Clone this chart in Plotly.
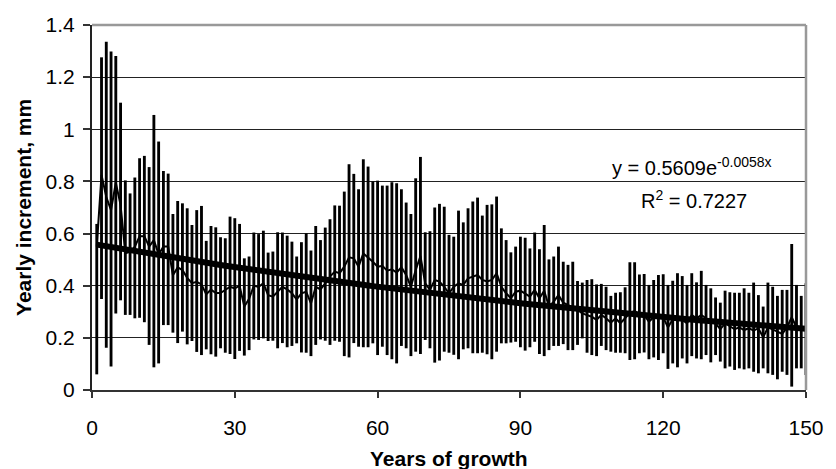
import math
import plotly.graph_objects as go

years = list(range(1, 151))

max_vals = [
    0.637, 1.276, 1.336, 1.298, 1.281, 1.102, 0.804, 0.754, 0.815, 0.889,
    0.898, 0.855, 1.055, 0.953, 0.840, 0.830, 0.675, 0.725, 0.716, 0.697,
    0.633, 0.690, 0.706, 0.572, 0.629, 0.624, 0.586, 0.582, 0.665, 0.659,
    0.637, 0.505, 0.512, 0.604, 0.598, 0.611, 0.527, 0.531, 0.605, 0.604,
    0.592, 0.569, 0.512, 0.567, 0.601, 0.535, 0.629, 0.575, 0.623, 0.655,
    0.708, 0.707, 0.761, 0.866, 0.829, 0.770, 0.885, 0.857, 0.800, 0.803,
    0.784, 0.784, 0.797, 0.793, 0.770, 0.719, 0.675, 0.812, 0.894, 0.605,
    0.609, 0.700, 0.714, 0.703, 0.595, 0.588, 0.688, 0.643, 0.697, 0.723,
    0.738, 0.669, 0.710, 0.712, 0.742, 0.620, 0.575, 0.528, 0.550, 0.588,
    0.584, 0.543, 0.604, 0.540, 0.633, 0.501, 0.512, 0.550, 0.492, 0.480,
    0.492, 0.418, 0.412, 0.422, 0.425, 0.405, 0.407, 0.396, 0.361, 0.373,
    0.375, 0.394, 0.490, 0.490, 0.443, 0.445, 0.403, 0.422, 0.441, 0.444,
    0.403, 0.419, 0.448, 0.437, 0.403, 0.448, 0.413, 0.457, 0.403, 0.390,
    0.355, 0.335, 0.381, 0.375, 0.373, 0.373, 0.390, 0.373, 0.412, 0.364,
    0.320, 0.412, 0.396, 0.361, 0.384, 0.384, 0.560, 0.403, 0.361, 0.409,
]

min_vals = [
    0.060, 0.349, 0.162, 0.090, 0.293, 0.344, 0.288, 0.288, 0.275, 0.277,
    0.260, 0.173, 0.087, 0.102, 0.249, 0.249, 0.220, 0.180, 0.224, 0.175,
    0.188, 0.146, 0.134, 0.156, 0.137, 0.128, 0.160, 0.143, 0.138, 0.119,
    0.150, 0.132, 0.153, 0.194, 0.192, 0.198, 0.188, 0.189, 0.160, 0.180,
    0.164, 0.169, 0.179, 0.144, 0.143, 0.130, 0.173, 0.194, 0.189, 0.173,
    0.189, 0.185, 0.130, 0.125, 0.180, 0.166, 0.164, 0.164, 0.179, 0.134,
    0.166, 0.134, 0.118, 0.102, 0.169, 0.160, 0.130, 0.147, 0.138, 0.192,
    0.160, 0.105, 0.113, 0.147, 0.143, 0.135, 0.118, 0.156, 0.160, 0.141,
    0.141, 0.143, 0.137, 0.118, 0.147, 0.179, 0.179, 0.182, 0.185, 0.164,
    0.151, 0.164, 0.185, 0.138, 0.130, 0.153, 0.169, 0.169, 0.176, 0.153,
    0.153, 0.173, 0.198, 0.143, 0.134, 0.130, 0.169, 0.153, 0.147, 0.143,
    0.143, 0.141, 0.115, 0.118, 0.141, 0.144, 0.118, 0.125, 0.115, 0.141,
    0.081, 0.102, 0.087, 0.121, 0.102, 0.130, 0.121, 0.118, 0.134, 0.106,
    0.134, 0.109, 0.083, 0.090, 0.077, 0.083, 0.079, 0.083, 0.070, 0.064,
    0.083, 0.064, 0.058, 0.041, 0.070, 0.058, 0.013, 0.083, 0.083, 0.058,
]

mean_vals = [
    0.550, 0.825, 0.740, 0.690, 0.795, 0.710, 0.525, 0.530, 0.550, 0.590,
    0.590, 0.550, 0.575, 0.520, 0.550, 0.550, 0.440, 0.470, 0.460, 0.430,
    0.410, 0.415, 0.405, 0.367, 0.385, 0.372, 0.372, 0.385, 0.396, 0.390,
    0.400, 0.320, 0.350, 0.400, 0.395, 0.410, 0.364, 0.358, 0.377, 0.396,
    0.386, 0.371, 0.348, 0.371, 0.377, 0.332, 0.396, 0.386, 0.409, 0.435,
    0.454, 0.448, 0.473, 0.509, 0.505, 0.473, 0.524, 0.509, 0.492, 0.473,
    0.476, 0.458, 0.463, 0.450, 0.471, 0.441, 0.396, 0.460, 0.514, 0.409,
    0.384, 0.422, 0.416, 0.396, 0.371, 0.396, 0.409, 0.403, 0.428, 0.435,
    0.441, 0.422, 0.416, 0.422, 0.448, 0.396, 0.371, 0.352, 0.377, 0.381,
    0.371, 0.358, 0.384, 0.352, 0.381, 0.320, 0.339, 0.364, 0.335, 0.326,
    0.317, 0.307, 0.294, 0.288, 0.281, 0.269, 0.288, 0.275, 0.258, 0.275,
    0.256, 0.275, 0.297, 0.303, 0.292, 0.288, 0.262, 0.279, 0.284, 0.279,
    0.240, 0.271, 0.269, 0.269, 0.256, 0.288, 0.275, 0.288, 0.275, 0.258,
    0.256, 0.233, 0.256, 0.243, 0.233, 0.240, 0.230, 0.237, 0.228, 0.237,
    0.202, 0.240, 0.233, 0.224, 0.215, 0.240, 0.279, 0.240, 0.233, 0.240,
]

# Exponential trend line printed on the chart: y = a * exp(b * x)
trend_a = 0.5609
trend_b = -0.0058
r_squared = 0.7227

x_ticks = [0, 30, 60, 90, 120, 150]
y_ticks = [0, 0.2, 0.4, 0.6, 0.8, 1.0, 1.2, 1.4]
y_tick_labels = ["0", "0.2", "0.4", "0.6", "0.8", "1", "1.2", "1.4"]

trend_vals = [trend_a * math.exp(trend_b * x) for x in years]

FONT = "Liberation Sans, Arial, sans-serif"

fig = go.Figure()
fig.add_trace(go.Bar(
    x=years,
    y=[hi - lo for hi, lo in zip(max_vals, min_vals)],
    base=min_vals,
    width=0.6,
    marker=dict(color="black", line=dict(width=0)),
    hoverinfo="skip",
))
fig.add_trace(go.Scatter(
    x=years, y=mean_vals, mode="lines",
    line=dict(color="black", width=2),
))
fig.add_trace(go.Scatter(
    x=years, y=trend_vals, mode="lines",
    line=dict(color="black", width=6),
))

fig.update_layout(
    width=836, height=469,
    margin=dict(l=92, r=19, t=25, b=79),
    paper_bgcolor="white", plot_bgcolor="white",
    showlegend=False,
    font=dict(family=FONT, size=21, color="black"),
    xaxis=dict(
        range=[0, 150], tickvals=x_ticks, ticks="outside", ticklen=6,
        tickwidth=1.5, tickcolor="#333", showgrid=False, zeroline=False,
        showline=True, linecolor="#333", linewidth=2,
        ticklabelstandoff=12,
        tickfont=dict(family=FONT, size=21),
    ),
    yaxis=dict(
        range=[0, 1.4], tickvals=y_ticks, ticktext=y_tick_labels,
        ticks="outside", ticklen=7,
        tickwidth=1.5, tickcolor="#333", showgrid=True, gridcolor="#222", gridwidth=1,
        zeroline=False, showline=True, linecolor="#222", linewidth=2,
        ticklabelstandoff=4,
        tickfont=dict(family=FONT, size=21),
    ),
    shapes=[
        dict(type="line", xref="paper", yref="paper", x0=0, x1=1, y0=1, y1=1,
             line=dict(color="#999", width=2.5)),
        dict(type="line", xref="paper", yref="paper", x0=1, x1=1, y0=0, y1=1,
             line=dict(color="#999", width=2.5)),
    ],
    annotations=[
        dict(text="<b>Years of growth</b>", xref="paper", yref="paper",
             x=0.5, y=-0.189, xanchor="center", yanchor="middle",
             showarrow=False, font=dict(family=FONT, size=21)),
        dict(text="<b>Yearly increment, mm</b>", xref="paper", yref="paper",
             x=-0.096, y=0.5, xanchor="center", yanchor="middle", textangle=-90,
             showarrow=False, font=dict(family=FONT, size=21)),
        dict(text="y = %.4fe<sup>%.4fx</sup>" % (trend_a, trend_b), xref="paper", yref="y",
             x=0.8404, y=0.857, xanchor="center", yanchor="middle",
             showarrow=False, font=dict(family=FONT, size=20)),
        dict(text="R<sup>2</sup> = %.4f" % r_squared, xref="paper", yref="y",
             x=0.8428, y=0.729, xanchor="center", yanchor="middle",
             showarrow=False, font=dict(family=FONT, size=20)),
    ],
)

fig.write_html("out.html")
